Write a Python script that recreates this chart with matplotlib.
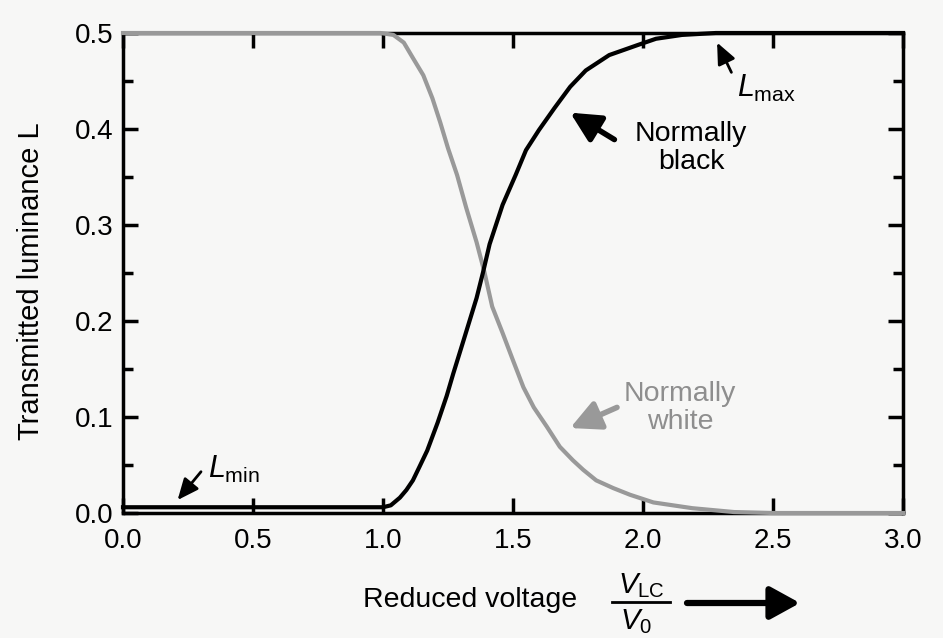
import matplotlib
matplotlib.use("Agg")
import matplotlib.pyplot as plt
from matplotlib.lines import Line2D
from matplotlib.patches import FancyArrowPatch
from matplotlib.ticker import MultipleLocator

plt.rcParams["font.family"] = ["Liberation Sans", "DejaVu Sans"]
plt.rcParams["mathtext.fontset"] = "custom"
plt.rcParams["mathtext.rm"] = "Liberation Sans"
plt.rcParams["mathtext.it"] = "Liberation Sans:italic"

# normally white curve (grey)
voltage_white = [0.0, 0.99, 1.04, 1.08, 1.115, 1.155, 1.19, 1.22, 1.25, 1.285, 1.32,
                 1.36, 1.39, 1.42, 1.46, 1.50, 1.54, 1.58, 1.63, 1.68, 1.73, 1.77,
                 1.82, 1.885, 1.95, 2.04, 2.19, 2.35, 2.5, 3.0]
lum_white = [0.5, 0.5, 0.498, 0.490, 0.474, 0.456, 0.432, 0.407, 0.380, 0.352, 0.318,
             0.282, 0.251, 0.215, 0.1875, 0.159, 0.131, 0.110, 0.090, 0.069, 0.055, 0.045,
             0.034, 0.026, 0.019, 0.011, 0.005, 0.001, 0.0, 0.0]

# normally black curve
voltage_black = [0.0, 1.0, 1.03, 1.065, 1.09, 1.115, 1.14, 1.17, 1.21, 1.245, 1.27,
                 1.31, 1.36, 1.385, 1.41, 1.46, 1.51, 1.55, 1.60, 1.66, 1.72, 1.78,
                 1.87, 1.98, 2.05, 2.15, 2.28, 3.0]
lum_black = [0.006, 0.006, 0.008, 0.016, 0.024, 0.034, 0.048, 0.065, 0.094, 0.122, 0.145,
             0.180, 0.224, 0.251, 0.280, 0.321, 0.352, 0.378, 0.399, 0.422, 0.444, 0.461,
             0.477, 0.4875, 0.494, 0.498, 0.5, 0.5]

x_ticks = [0.0, 0.5, 1.0, 1.5, 2.0, 2.5, 3.0]
y_ticks = [0.0, 0.1, 0.2, 0.3, 0.4, 0.5]

W, H = 943, 638
bg = "#f7f7f6"
grey = "#999999"

fig = plt.figure(figsize=(W / 100, H / 100), dpi=100, facecolor=bg)
ax = fig.add_axes([123 / W, 1 - 513 / H, 780 / W, 480 / H], facecolor=bg)

ax.plot(voltage_white, lum_white, color=grey, lw=3.0, clip_on=False, zorder=3)
ax.plot(voltage_black, lum_black, color="black", lw=3.0, clip_on=False, zorder=4)

ax.set_xlim(0, 3.0)
ax.set_ylim(0, 0.5)
ax.set_xticks(x_ticks)
ax.set_yticks(y_ticks)
ax.set_xticklabels([f"{v:.1f}" for v in x_ticks])
ax.set_yticklabels([f"{v:.1f}" for v in y_ticks])
ax.yaxis.set_minor_locator(MultipleLocator(0.05))
ax.tick_params(which="both", direction="in", top=True, right=True, width=2.5)
ax.tick_params(which="major", length=11, labelsize=20, pad=7)
ax.tick_params(axis="x", which="major", pad=11)
ax.tick_params(which="minor", length=7)
for s in ax.spines.values():
    s.set_linewidth(2.5)

# axis labels
fig.text(31 / W, 1 - 281 / H, "Transmitted luminance L", rotation=90,
         ha="center", va="center", fontsize=21)
fig.text(470 / W, 1 - 600 / H, "Reduced voltage", ha="center", va="center", fontsize=20.5)
fig.text(641 / W, 1 - 586 / H, r"$V_{\mathrm{LC}}$", ha="center", va="center", fontsize=21)
fig.text(636 / W, 1 - 622 / H, r"$V_{0}$", ha="center", va="center", fontsize=21)
fig.add_artist(Line2D([612 / W, 670 / W], [1 - 602 / H, 1 - 602 / H],
                      transform=fig.transFigure, color="black", lw=2))
fig.add_artist(FancyArrowPatch(
    (687 / W, 1 - 603 / H), (800 / W, 1 - 603 / H), transform=fig.transFigure,
    arrowstyle="-|>,head_length=1.0,head_width=0.55", mutation_scale=18,
    lw=4.5, color="black", shrinkA=0, shrinkB=0))

# annotations
ax.annotate("", xy=(1.72, 0.417), xytext=(1.89, 0.389),
            arrowprops=dict(arrowstyle="-|>,head_length=0.9,head_width=0.45",
                            mutation_scale=20, lw=4, color="black",
                            shrinkA=0, shrinkB=0))
ax.text(2.185, 0.380, "Normally\nblack", ha="center", va="center",
        fontsize=20.5, linespacing=1.1)

ax.annotate("", xy=(1.72, 0.0885), xytext=(1.90, 0.110),
            arrowprops=dict(arrowstyle="-|>,head_length=0.9,head_width=0.45",
                            mutation_scale=20, lw=4, color=grey,
                            shrinkA=0, shrinkB=0))
ax.text(2.142, 0.109, "Normally\nwhite", ha="center", va="center",
        fontsize=20.5, linespacing=1.1, color="#8e8e8e")

ax.annotate("", xy=(2.285, 0.49), xytext=(2.34, 0.459),
            arrowprops=dict(arrowstyle="-|>,head_length=0.8,head_width=0.35",
                            mutation_scale=16, lw=2, color="black",
                            shrinkA=0, shrinkB=0))
ax.text(2.36, 0.433, r"$L_{\mathrm{max}}$", ha="left", va="baseline", fontsize=22)

ax.annotate("", xy=(0.21, 0.0135), xytext=(0.30, 0.043),
            arrowprops=dict(arrowstyle="-|>,head_length=0.8,head_width=0.35",
                            mutation_scale=16, lw=2, color="black",
                            shrinkA=0, shrinkB=0))
ax.text(0.327, 0.0365, r"$L_{\mathrm{min}}$", ha="left", va="baseline", fontsize=22)

fig.savefig("out.png", dpi=100, facecolor=bg)
